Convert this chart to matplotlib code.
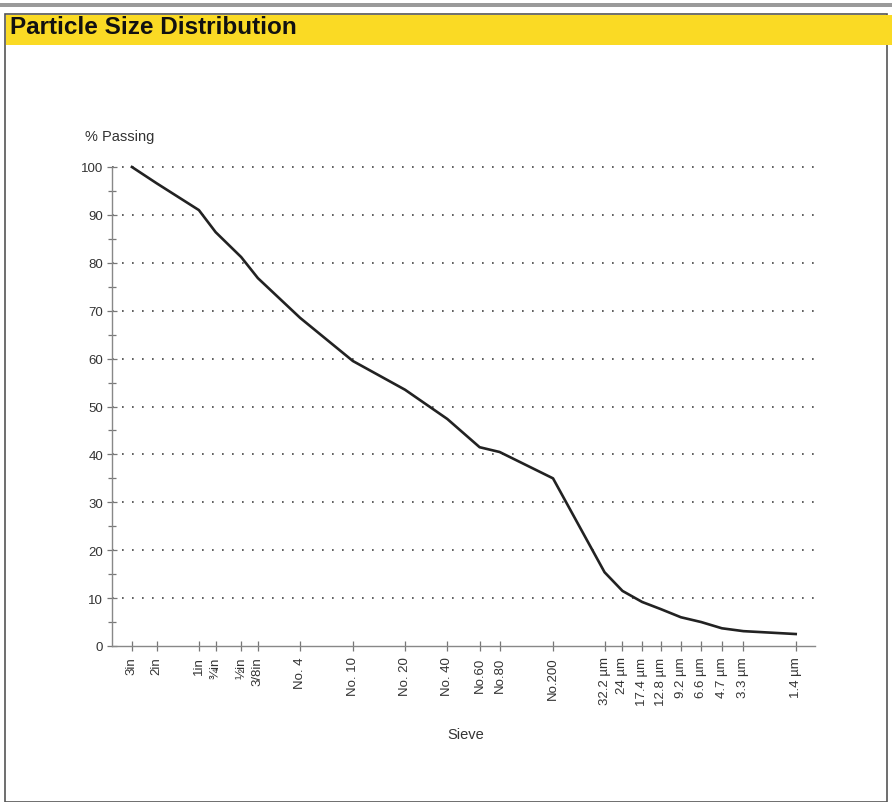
import matplotlib
matplotlib.use("Agg")
import matplotlib.pyplot as plt
from matplotlib.patches import Rectangle
from matplotlib.ticker import FixedLocator, MultipleLocator

plt.rcParams['font.family'] = ['Liberation Sans', 'DejaVu Sans']

# Sieve sizes in mm and labels
sizes_mm = [75, 50, 25, 19, 12.5, 9.5, 4.75, 2.0, 0.85, 0.425, 0.25, 0.18, 0.075,
            0.0322, 0.024, 0.0174, 0.0128, 0.0092, 0.0066, 0.0047, 0.0033, 0.0014]
labels = ["3in", "2in", "1in", "¾in", "½in", "3/8in", "No. 4", "No. 10", "No. 20", "No. 40",
          "No.60", "No.80", "No.200", "32.2 µm", "24 µm", "17.4 µm", "12.8 µm", "9.2 µm",
          "6.6 µm", "4.7 µm", "3.3 µm", "1.4 µm"]
passing = [100, 96.6, 91, 86.4, 81.2, 76.8, 68.5, 59.5, 53.5, 47.4, 41.5, 40.5, 35,
           15.4, 11.5, 9.2, 7.7, 6.0, 5.0, 3.7, 3.1, 2.5]
yticks = [0, 10, 20, 30, 40, 50, 60, 70, 80, 90, 100]

W, H = 892, 803
fig = plt.figure(figsize=(W / 100, H / 100), dpi=100)

# frame and title bar
fig.patches.append(Rectangle((5 / W, 0), 882 / W, (H - 15) / H, transform=fig.transFigure,
                             facecolor='white', edgecolor='#555555', linewidth=1.2, zorder=0))
fig.patches.append(Rectangle((6 / W, 1 - 46 / H), 886 / W, 30 / H, transform=fig.transFigure,
                             facecolor='#FADA24', edgecolor='none', zorder=1))
fig.patches.append(Rectangle((0, 1 - 8 / H), 1, 4 / H, transform=fig.transFigure,
                             facecolor='#9a9a9a', edgecolor='none', zorder=1))
fig.text(10 / W, 1 - 28 / H, "Particle Size Distribution", fontsize=17.5, fontweight='bold',
         va='center', ha='left', color='#111111', zorder=2)

ax = fig.add_axes([112 / W, 1 - 647 / H, (815 - 112) / W, (647 - 168) / H])
ax.set_zorder(5)
ax.patch.set_visible(False)
ax.plot(sizes_mm, passing, color='#222222', linewidth=1.9, clip_on=False, zorder=3,
        solid_joinstyle='round')
ax.set_xscale('log')
ax.set_xlim(104, 0.00102)
ax.set_ylim(0, 100)

ax.xaxis.set_major_locator(FixedLocator(sizes_mm))
ax.xaxis.set_minor_locator(FixedLocator([]))
ax.set_xticklabels(labels, rotation=90, fontsize=9.5, color='#333333')
ax.set_yticks(yticks)
ax.set_yticklabels([str(v) for v in yticks], fontsize=9.5, color='#333333')
ax.yaxis.set_minor_locator(MultipleLocator(5))
ax.tick_params(axis='both', which='both', direction='inout', color='#777777', width=0.9)
ax.tick_params(axis='x', which='major', length=7, pad=4)
ax.tick_params(axis='y', which='major', length=7, pad=3)
ax.tick_params(axis='y', which='minor', length=6)

for s in ['top', 'right']:
    ax.spines[s].set_visible(False)
for s in ['left', 'bottom']:
    ax.spines[s].set_color('#888888')
    ax.spines[s].set_linewidth(1.0)

for v in yticks[1:]:
    ax.axhline(v, color='#444444', linewidth=1.2, linestyle=(0, (1, 5)), zorder=1,
               clip_on=False)

fig.text(85 / W, 1 - 137 / H, "% Passing", fontsize=10.5, color='#333333', va='center', ha='left')
fig.text(466 / W, 1 - 735 / H, "Sieve", fontsize=10.5, color='#333333', va='center', ha='center')

fig.savefig("out.png", dpi=100)
